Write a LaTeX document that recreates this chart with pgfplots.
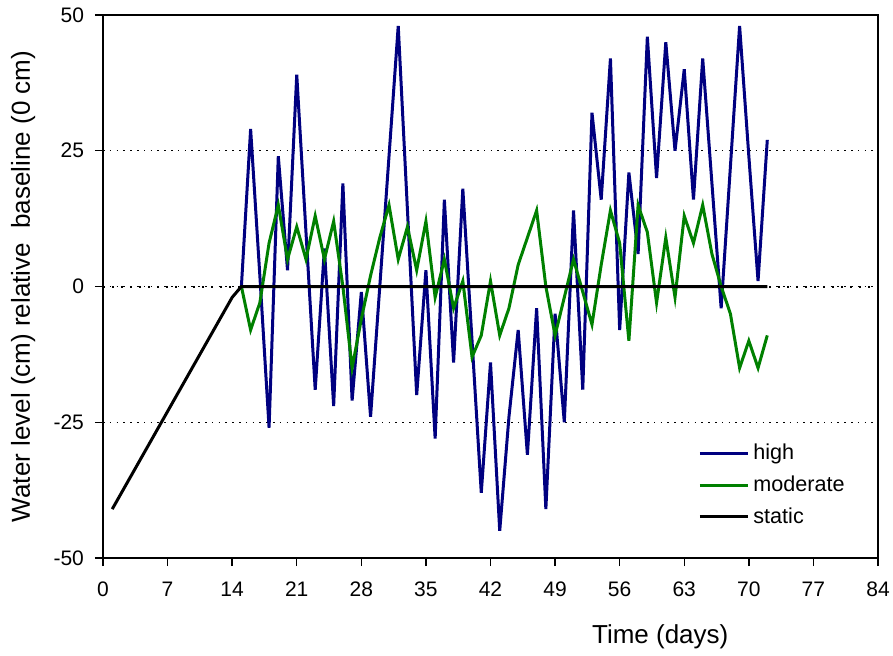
\documentclass[border=0pt]{standalone}
\usepackage{fontspec}
\setmainfont{Liberation Sans}
\usepackage{pgfplots}
\pgfplotsset{compat=1.18}
\definecolor{highc}{HTML}{000080}
\definecolor{modc}{HTML}{008000}

\begin{document}
\begin{tikzpicture}
\begin{axis}[
  at={(0,0)}, anchor=south west,
  scale only axis, width=387.5pt, height=271.5pt,
  xmin=0, xmax=84, ymin=-50, ymax=50,
  xtick={0,7,...,84},
  xticklabels={0,7,14,21,28,35,42,49,56,63,70,77,84},
  ytick={-50,-25,0,25,50},
  yticklabels={-50,-25,0,25,50},
  tick align=outside, major tick length=4pt,
  xtick pos=bottom, ytick pos=left,
  tick style={black, line width=0.7pt},
  axis line style={black, line width=0.8pt},
  ticklabel style={font=\fontsize{10.5}{12}\selectfont},
  xticklabel style={yshift=-4.5pt},
  yticklabel style={xshift=-2pt},
  ymajorgrids, grid style={black, line width=0.7pt, dash pattern=on 0.8pt off 2.6pt},
  xlabel={Time (days)},
  xlabel style={at={(axis description cs:0.719,-0.1455)}, anchor=center, font=\fontsize{13}{15}\selectfont},
  ylabel={Water level (cm) relative~ baseline (0 cm)},
  ylabel style={at={(axis description cs:-0.103,0.5)}, anchor=center, font=\fontsize{13}{15}\selectfont},
  legend style={draw=none, fill=none, at={(0.76,0.225)}, anchor=north west,
    font=\fontsize{10.8}{12}\selectfont, row sep=2.5pt},
  legend cell align=left,
  legend image code/.code={\draw[#1] (0pt,0pt) -- (24pt,0pt);},
]
\addplot[black, line width=1pt, dash pattern=on 1.2pt off 3.3pt, forget plot] coordinates {(0,0) (84,0)};

\addplot[highc, line width=1.5pt] coordinates {
(15,0) (16,29) (17,2) (18,-26) (19,24) (20,3) (21,39) (22,10) (23,-19) (24,7)
(25,-22) (26,19) (27,-21) (28,-1) (29,-24) (30,0) (31,24) (32,48) (33,14) (34,-20)
(35,3) (36,-28) (37,16) (38,-14) (39,18) (40,-10) (41,-38) (42,-14) (43,-45) (44,-24)
(45,-8) (46,-31) (47,-4) (48,-41) (49,-5) (50,-25) (51,14) (52,-19) (53,32) (54,16)
(55,42) (56,-8) (57,21) (58,6) (59,46) (60,20) (61,45) (62,25) (63,40) (64,16)
(65,42) (66,19) (67,-4) (68,22) (69,48) (70,24) (71,1) (72,27)
};
\addlegendentry{high}

\addplot[modc, line width=1.5pt] coordinates {
(15,0) (16,-8) (17,-3) (18,8) (19,15) (20,5) (21,11) (22,5) (23,13) (24,5)
(25,12) (26,0) (27,-15) (28,-6) (29,2) (30,9) (31,15) (32,5) (33,11) (34,3)
(35,12) (36,-2) (37,5) (38,-4) (39,1) (40,-13) (41,-9) (42,1) (43,-9) (44,-4)
(45,4) (46,9) (47,14) (48,0) (49,-9) (50,-2) (51,5) (52,-1) (53,-7) (54,4)
(55,14) (56,8) (57,-10) (58,15) (59,10) (60,-3) (61,9) (62,-2) (63,13) (64,8)
(65,15) (66,6) (67,0) (68,-5) (69,-15) (70,-10) (71,-15) (72,-9)
};
\addlegendentry{moderate}

\addplot[black, line width=1.5pt] coordinates {
(1,-41) (2,-38) (3,-35) (4,-32) (5,-29) (6,-26) (7,-23) (8,-20) (9,-17) (10,-14)
(11,-11) (12,-8) (13,-5) (14,-2) (15,0) (72,0)
};
\addlegendentry{static}
\end{axis}
\pgfresetboundingbox
\path[use as bounding box] (-51.5pt,-48.5pt) rectangle (395pt,279pt);
\end{tikzpicture}
\end{document}
